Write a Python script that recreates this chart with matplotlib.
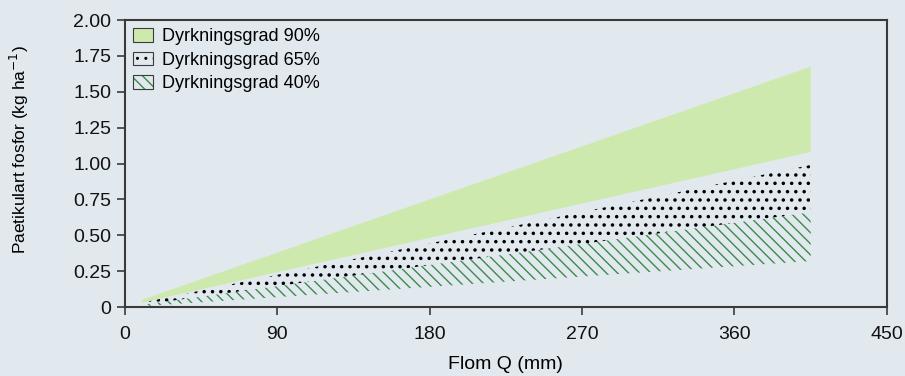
import matplotlib
matplotlib.use('Agg')
import matplotlib.pyplot as plt
from matplotlib.patches import Patch
from matplotlib.legend_handler import HandlerTuple

plt.rcParams['font.family'] = ['Liberation Sans', 'DejaVu Sans']

# Flom Q (mm) ved start og slutt av båndene
flom = [10, 405]
# øvre og nedre grense for partikulært fosfor (kg/ha)
grad90_hoy = [0.05, 1.675]
grad90_lav = [0.03, 1.08]
grad65_hoy = [0.03, 0.99]
grad65_lav = [0.015, 0.66]
grad40_hoy = [0.015, 0.66]
grad40_lav = [0.005, 0.32]

labels = ['Dyrkningsgrad 90%', 'Dyrkningsgrad 65%', 'Dyrkningsgrad 40%']
xticks = [0, 90, 180, 270, 360, 450]
yticks = [0, 0.25, 0.5, 0.75, 1.0, 1.25, 1.5, 1.75, 2.0]
yticklabels = ['0', '0.25', '0.50', '0.75', '1.00', '1.25', '1.50', '1.75', '2.00']

bg = '#e1e9ef'
gronn = '#cde9ae'
skravur = '#3d8a4a'
kant = '#3a3a3a'
streker = '\\' * 3

fig = plt.figure(figsize=(9.05, 3.76), dpi=100, facecolor=bg)
ax = fig.add_axes([0.138, 0.1835, 0.842, 0.7633])
ax.set_facecolor(bg)

with plt.rc_context({'hatch.linewidth': 1.0}):
    ax.fill_between(flom, grad40_lav, grad40_hoy, facecolor='none',
                    edgecolor=skravur, linewidth=0, hatch=streker)
with plt.rc_context({'hatch.linewidth': 1.3}):
    ax.fill_between(flom, grad65_lav, grad65_hoy, facecolor='none',
                    edgecolor='black', linewidth=0, hatch='..')
ax.fill_between(flom, grad90_lav, grad90_hoy, facecolor=gronn,
                edgecolor='none', linewidth=0)

ax.set_xlim(0, 450)
ax.set_ylim(0, 2.0)
ax.set_xticks(xticks)
ax.set_yticks(yticks)
ax.set_yticklabels(yticklabels)
ax.tick_params(direction='out', length=6, width=1.2, color=kant,
               labelsize=14, labelcolor='#111111')
ax.tick_params(axis='y', pad=4)
ax.tick_params(axis='x', pad=8)
for s in ax.spines.values():
    s.set_color(kant)
    s.set_linewidth(1.5)

ax.set_xlabel('Flom Q (mm)', fontsize=14, labelpad=9)
ax.set_ylabel('Paetikulart fosfor (kg ha$^{-1}$)', fontsize=12.5)
ax.yaxis.set_label_coords(-0.123, 0.55)

with plt.rc_context({'hatch.linewidth': 1.0}):
    h90 = Patch(facecolor=gronn, edgecolor=kant, linewidth=0.8)
    h40 = (Patch(facecolor='none', edgecolor=skravur, linewidth=0, hatch=streker),
           Patch(facecolor='none', edgecolor=kant, linewidth=0.8))
with plt.rc_context({'hatch.linewidth': 1.3}):
    h65 = (Patch(facecolor='none', edgecolor='black', linewidth=0, hatch='..'),
           Patch(facecolor='none', edgecolor=kant, linewidth=0.8))
ax.legend([h90, h65, h40], labels, loc='upper left', frameon=False,
          fontsize=13, handlelength=1.1, handleheight=0.8,
          handletextpad=0.5, labelspacing=0.35, borderpad=0,
          borderaxespad=0.45,
          handler_map={tuple: HandlerTuple(ndivide=1, pad=0)})

fig.savefig('out.png', dpi=100, facecolor=bg)
